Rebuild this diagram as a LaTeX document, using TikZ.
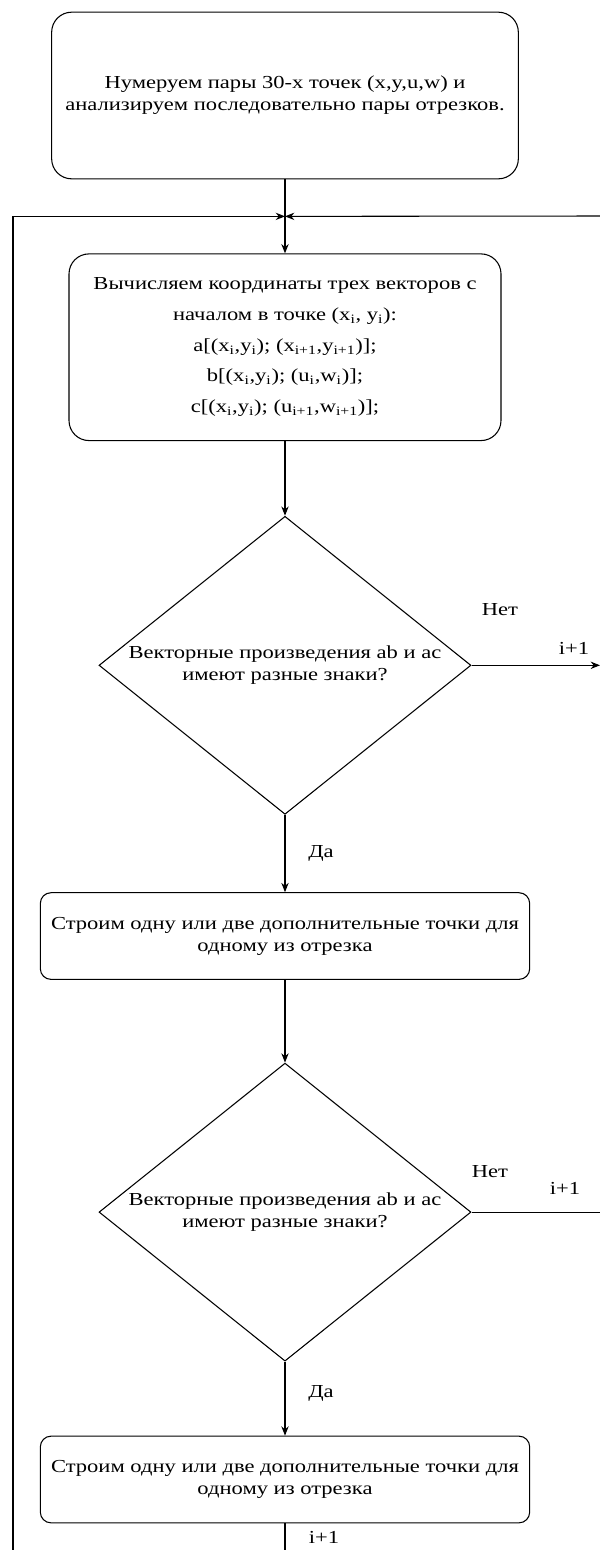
\documentclass[tikz,border=0pt]{standalone}
\usepackage{fontspec}
\setmainfont{Liberation Serif}[FakeStretch=1.23]
\usetikzlibrary{positioning, arrows.meta, shapes.geometric, calc}

\begin{document}
\begin{tikzpicture}[x=0.75pt, y=-0.75pt, >={Stealth[length=7pt, width=5.5pt]},
    line width=0.8pt,
    every node/.style={font=\fontsize{13.75}{16.5}\selectfont},
    every label/.style={align=center},
    bigbox/.style={draw, rounded corners=15pt, align=center, inner sep=2pt},
    smallbox/.style={draw, rounded corners=8pt, align=center, inner sep=2pt,
        minimum width=367pt, minimum height=65pt},
    cond/.style={draw, diamond, inner sep=0pt,
        minimum width=279pt, minimum height=223.5pt}]

    \useasboundingbox (0,0) rectangle (600,1550);

    % Блоки
    \node [bigbox, minimum width=350pt, minimum height=125pt] (start) at (285,95.5)
        {Нумеруем пары 30-х точек (x,y,u,w) и\\анализируем последовательно пары отрезков.};
    \node [bigbox, below=55.5pt of start, minimum width=324pt, minimum height=140pt,
        font=\fontsize{13.75}{23}\selectfont] (calc)
        {Вычисляем координаты трех векторов с\\
         началом в точке (x\textsubscript{i}, y\textsubscript{i}):\\
         a[(x\textsubscript{i},y\textsubscript{i}); (x\textsubscript{i+1},y\textsubscript{i+1})];\\
         b[(x\textsubscript{i},y\textsubscript{i}); (u\textsubscript{i},w\textsubscript{i})];\\
         c[(x\textsubscript{i},y\textsubscript{i}); (u\textsubscript{i+1},w\textsubscript{i+1})];};
    \node [cond, below=56pt of calc,
        label=center:{Векторные произведения ab и ac\\имеют разные знаки?}] (cond1) {};
    \node [smallbox, below=58pt of cond1] (build1)
        {Строим одну или две дополнительные точки для\\одному из отрезка};
    \node [cond, below=62pt of build1,
        label=center:{Векторные произведения ab и ac\\имеют разные знаки?}] (cond2) {};
    \node [smallbox, below=55.5pt of cond2] (build2)
        {Строим одну или две дополнительные точки для\\одному из отрезка};

    % Точки
    \coordinate (join) at ($(start.south)!0.5!(calc.north)$);
    \coordinate (loopL) at (13,1550);
    \coordinate (loopR) at (600,216);
    \coordinate (tail) at (build2.south |- loopL);

    % Стрелки
    \draw [->] (start) -- (calc);
    \draw [->] (loopL) |- (join);
    \draw [->] (loopR) -- (join);
    \draw [->] (calc) -- (cond1);
    \draw [->] (cond1) -- (build1);
    \draw [->] (build1) -- (cond2);
    \draw [->] (cond2) -- (build2);
    \draw (build2) -- (tail);
    \draw [->] (cond1.east) -- (cond1.east -| loopR);
    \draw (cond2.east) -- (cond2.east -| loopR);

    % Подписи
    \node (no1) at (500,610) {Нет};
    \node (inc1) at (574,648) {i+1};
    \node (yes1) at (321,853) {Да};
    \node (no2) at (490,1172) {Нет};
    \node (inc2) at (565,1188) {i+1};
    \node (yes2) at (321,1393) {Да};
    \node (inc3) at (324,1537) {i+1};

\end{tikzpicture}
\end{document}
